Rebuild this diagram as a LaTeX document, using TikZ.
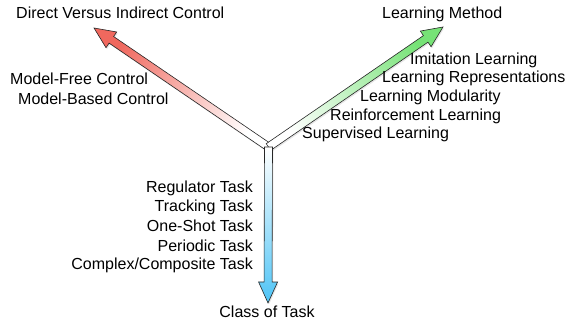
\documentclass[tikz,border=0pt]{standalone}
\usepackage{fontspec}
\setmainfont{Liberation Sans}
\usetikzlibrary{calc,shadows}
\definecolor{ctrlred}{RGB}{240,104,94}
\definecolor{learngreen}{RGB}{118,226,118}
\definecolor{taskblue}{RGB}{78,196,246}
% fat shaded arrow: from, to, colour, shading angle
\newcommand{\fatarrow}[4]{
  \path ($(#2)!21pt!(#1)$) coordinate (#2-base);
  \draw[draw=black!85, line width=.6pt, top color=white, bottom color=#3, shading angle=#4,
        drop shadow={opacity=.2, shadow xshift=1pt, shadow yshift=-1.5pt}]
    ($(#1)!4pt!90:(#2)$) -- ($(#2-base)!4pt!90:(#2)$) -- ($(#2-base)!9.5pt!90:(#2)$)
    -- (#2) -- ($(#2-base)!9.5pt!-90:(#2)$) -- ($(#2-base)!4pt!-90:(#2)$)
    -- ($(#1)!4pt!-90:(#2)$) -- cycle}

\begin{document}
\begin{tikzpicture}[x=1pt,y=1pt,
    lbl/.style={inner sep=0pt, font=\fontsize{16}{19.5}\selectfont}]
    \useasboundingbox (0,0) rectangle (571,323);

    \coordinate (hub) at (268.5,176);
    \coordinate (dirtip) at (94,295);
    \coordinate (methodtip) at (443,296);
    \coordinate (classtip) at (268,20);

    \fatarrow{hub}{dirtip}{ctrlred}{235.6};
    \fatarrow{hub}{methodtip}{learngreen}{124.5};
    \fatarrow{hub}{classtip}{taskblue}{0};

    \node[lbl, anchor=base west] (direct) at (16,304) {Direct Versus Indirect Control};
    \node[lbl, anchor=base west] (method) at (382,304) {Learning Method};
    \node[lbl, anchor=base] (class) at (267,5) {Class of Task};

    \node[lbl, anchor=base west] (imitation) at (410,258) {Imitation Learning};
    \node[lbl, anchor=base west] (repr) at (382,240) {Learning Representations};
    \node[lbl, anchor=base west] (modul) at (360,221) {Learning Modularity};
    \node[lbl, anchor=base west] (reinf) at (330,202) {Reinforcement Learning};
    \node[lbl, anchor=base west] (superv) at (302,184) {Supervised Learning};

    \node[lbl, anchor=base west] (modelfree) at (10,238) {Model-Free Control};
    \node[lbl, anchor=base west] (modelbased) at (18,218) {Model-Based Control};

    \node[lbl, anchor=base east] (regulator) at (253,130) {Regulator Task};
    \node[lbl, anchor=base east] (tracking) at (253,111) {Tracking Task};
    \node[lbl, anchor=base east] (oneshot) at (253,91) {One-Shot Task};
    \node[lbl, anchor=base east] (periodic) at (253,71) {Periodic Task};
    \node[lbl, anchor=base east] (composite) at (253,53) {Complex/Composite Task};
\end{tikzpicture}
\end{document}
